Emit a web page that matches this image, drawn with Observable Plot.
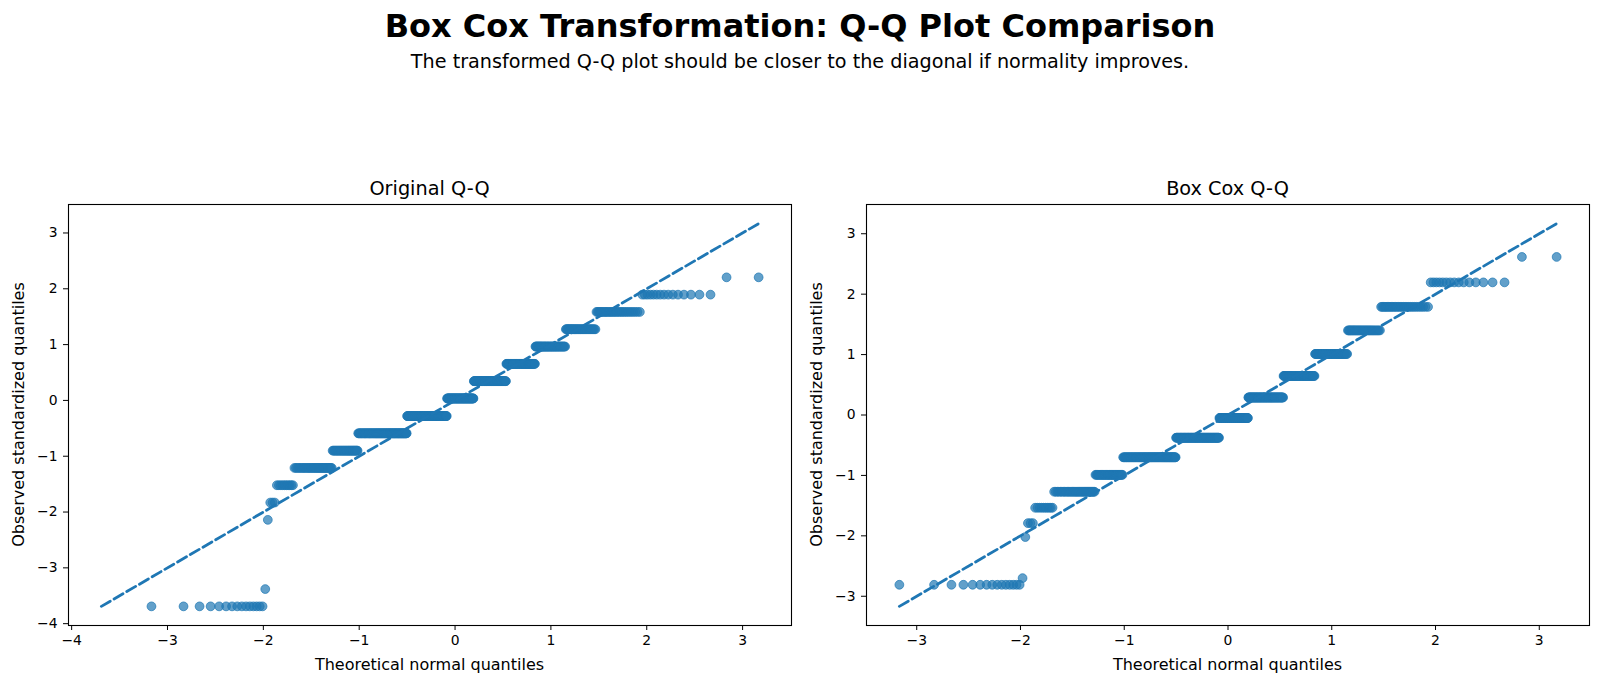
<!DOCTYPE html>
<html>
<head>
<meta charset="utf-8">
<script src="https://cdn.jsdelivr.net/npm/d3@7"></script>
<script src="https://cdn.jsdelivr.net/npm/@observablehq/plot@0.6"></script>
<style>
  html, body { margin: 0; padding: 0; background: #fff; }
  #fig { position: relative; width: 1600px; height: 685px; font-family: "DejaVu Sans", sans-serif; overflow: hidden; }
  .panel { position: absolute; }
  #overlay { position: absolute; left: 0; top: 0; pointer-events: none; }
</style>
</head>
<body>
<div id="fig">
  <div id="left" class="panel" style="left:0px; top:160px; width:800px; height:525px;"></div>
  <div id="right" class="panel" style="left:798px; top:160px; width:802px; height:525px;"></div>
  <svg id="overlay" width="1600" height="685" font-family="DejaVu Sans, sans-serif" fill="#000">
    <text id="t-title" x="800" y="37" text-anchor="middle" font-size="32" font-weight="bold"></text>
    <text id="t-sub" x="800" y="68" text-anchor="middle" font-size="19.2"></text>
    <text id="t-p1" x="429.5" y="195" text-anchor="middle" font-size="19.3"></text>
    <text id="t-p2" x="1227.5" y="195" text-anchor="middle" font-size="19.3"></text>
    <text id="t-x1" x="429.5" y="670" text-anchor="middle" font-size="16"></text>
    <text id="t-x2" x="1227.5" y="670" text-anchor="middle" font-size="16"></text>
    <text id="t-y1" transform="translate(24,414.5) rotate(-90)" text-anchor="middle" font-size="16"></text>
    <text id="t-y2" transform="translate(821.7,414.5) rotate(-90)" text-anchor="middle" font-size="16"></text>
  </svg>
</div>
<script>
// ---- Texts ----
const figTitle = "Box Cox Transformation: Q-Q Plot Comparison";
const figSubtitle = "The transformed Q-Q plot should be closer to the diagonal if normality improves.";
const panelTitles = ["Original Q-Q", "Box Cox Q-Q"];
const xLabel = "Theoretical normal quantiles";
const yLabel = "Observed standardized quantiles";

// ---- Data ----
// Distinct observed standardized values (one per discrete level), lowest to highest
const originalLevels = [-3.69, -3.38, -2.14, -1.83, -1.52, -1.21, -0.90, -0.59, -0.28, 0.035, 0.345, 0.655, 0.965, 1.275, 1.585, 1.895, 2.205];
const boxcoxLevels   = [-2.81, -2.70, -2.02, -1.79, -1.535, -1.27, -0.99, -0.70, -0.376, -0.05, 0.29, 0.646, 1.01, 1.40, 1.79, 2.195, 2.616];
// Number of observations sitting on each level (same sample, monotone transform)
const levelCounts    = [15, 1, 1, 3, 10, 35, 36, 99, 103, 72, 82, 62, 50, 35, 29, 15, 2];
// Tick values
const ticksOriginal = [-4, -3, -2, -1, 0, 1, 2, 3];
const ticksBoxcox   = [-3, -2, -1, 0, 1, 2, 3];

// ---- Helpers ----
function qnorm(p) {
  const a=[-3.969683028665376e+01,2.209460984245205e+02,-2.759285104469687e+02,1.383577518672690e+02,-3.066479806614716e+01,2.506628277459239e+00];
  const b=[-5.447609879822406e+01,1.615858368580409e+02,-1.556989798598866e+02,6.680131188771972e+01,-1.328068155288572e+01];
  const c=[-7.784894002430293e-03,-3.223964580411365e-01,-2.400758277161838e+00,-2.549732539343734e+00,4.374664141464968e+00,2.938163982698783e+00];
  const d=[7.784695709041462e-03,3.224671290700398e-01,2.445134137142996e+00,3.754408661907416e+00];
  const pl = 0.02425, ph = 1 - pl;
  if (p < pl) { const q = Math.sqrt(-2*Math.log(p)); return (((((c[0]*q+c[1])*q+c[2])*q+c[3])*q+c[4])*q+c[5])/((((d[0]*q+d[1])*q+d[2])*q+d[3])*q+1); }
  if (p <= ph) { const q = p - 0.5, r = q*q; return (((((a[0]*r+a[1])*r+a[2])*r+a[3])*r+a[4])*r+a[5])*q/(((((b[0]*r+b[1])*r+b[2])*r+b[3])*r+b[4])*r+1); }
  const q = Math.sqrt(-2*Math.log(1-p)); return -(((((c[0]*q+c[1])*q+c[2])*q+c[3])*q+c[4])*q+c[5])/((((d[0]*q+d[1])*q+d[2])*q+d[3])*q+1);
}

// Q-Q table: sorted observations against normal quantiles at (i - 0.5) / n
function qqTable(levels, counts) {
  const n = d3.sum(counts);
  const rows = [];
  let i = 0;
  levels.forEach((v, j) => {
    for (let k = 0; k < counts[j]; k++) { i++; rows.push({theo: qnorm((i - 0.5) / n), obs: v}); }
  });
  return rows;
}

const blue = "#1f77b4";

function panel(levels, counts, ticks) {
  const rows = qqTable(levels, counts);
  const lo = Math.min(d3.min(rows, d => d.theo), d3.min(rows, d => d.obs));
  const hi = Math.max(d3.max(rows, d => d.theo), d3.max(rows, d => d.obs));
  const m = 0.05 * (hi - lo);
  const dom = [lo - m, hi + m];
  const diag = [{v: lo}, {v: hi}];
  return Plot.plot({
    width: 800, height: 525,
    marginLeft: 68, marginRight: 9, marginTop: 44, marginBottom: 60,
    style: {fontFamily: "DejaVu Sans, sans-serif", fontSize: "13.9px", color: "#000", background: "#fff", overflow: "visible"},
    x: {domain: dom},
    y: {domain: dom},
    marks: [
      Plot.dot(rows, {x: "theo", y: "obs", r: 4.4, fill: blue, fillOpacity: 0.7, stroke: blue, strokeOpacity: 0.7, strokeWidth: 1}),
      Plot.line(diag, {x: "v", y: "v", stroke: blue, strokeWidth: 2.8, strokeDasharray: "10.3,4.4"}),
      Plot.frame({stroke: "#000", strokeWidth: 1.1}),
      Plot.axisX({ticks: ticks, tickSize: 5, tickPadding: 5, label: null, tickFormat: d3.format("d")}),
      Plot.axisY({ticks: ticks, tickSize: 5, tickPadding: 6, label: null, tickFormat: d3.format("d")})
    ]
  });
}

document.getElementById("left").appendChild(panel(originalLevels, levelCounts, ticksOriginal));
document.getElementById("right").appendChild(panel(boxcoxLevels, levelCounts, ticksBoxcox));

document.getElementById("t-title").textContent = figTitle;
document.getElementById("t-sub").textContent = figSubtitle;
document.getElementById("t-p1").textContent = panelTitles[0];
document.getElementById("t-p2").textContent = panelTitles[1];
document.getElementById("t-x1").textContent = xLabel;
document.getElementById("t-x2").textContent = xLabel;
document.getElementById("t-y1").textContent = yLabel;
document.getElementById("t-y2").textContent = yLabel;
</script>
</body>
</html>
